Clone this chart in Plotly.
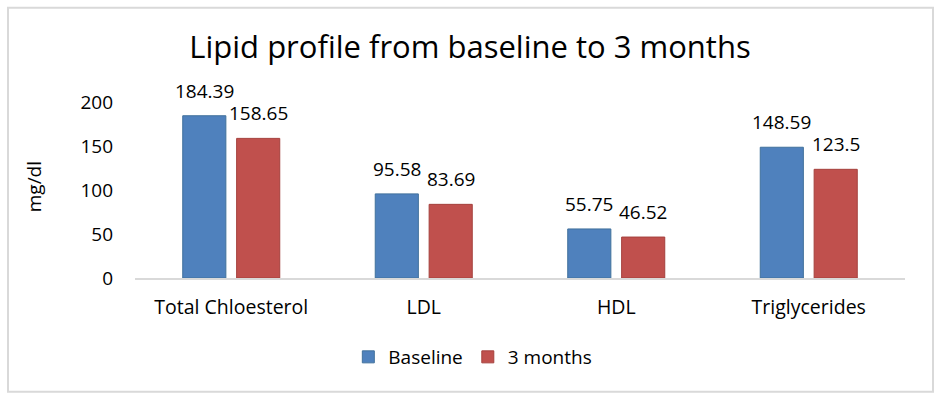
import plotly.graph_objects as go

categories = ["Total Chloesterol", "LDL", "HDL", "Triglycerides"]
baseline = [184.39, 95.58, 55.75, 148.59]
three_months = [158.65, 83.69, 46.52, 123.5]
series_names = ["Baseline", "3 months"]
y_ticks = [0, 50, 100, 150, 200]

FONT = "Open Sans"
BLUE = "#4F81BD"
RED = "#C0504D"

W, H = 940, 396
L, R, T, B = 135, 35, 101.5, 118
pw, ph = W - L - R, H - T - B

fig = go.Figure()
fig.add_trace(go.Bar(x=categories, y=baseline, name=series_names[0],
                     marker=dict(color=BLUE, line=dict(color="#41719C", width=1))))
fig.add_trace(go.Bar(x=categories, y=three_months, name=series_names[1],
                     marker=dict(color=RED, line=dict(color="#A5403D", width=1))))

annotations = []
for vals, shift in ((baseline, -27), (three_months, 27)):
    for c, v in zip(categories, vals):
        annotations.append(dict(x=c, y=v, xref="x", yref="y", text=f"{v:g}",
                                showarrow=False, xshift=shift, yshift=25,
                                yanchor="middle", xanchor="center",
                                font=dict(family=FONT, size=19, color="#000000")))

def px_x(p):
    return (p - L) / pw

def px_y(p):
    return (H - B - p) / ph

fig.update_layout(
    width=W, height=H,
    margin=dict(l=L, r=R, t=T, b=B, pad=0, autoexpand=False),
    paper_bgcolor="white", plot_bgcolor="white",
    barmode="group", bargap=0.44, bargroupgap=0.2,
    title=dict(text="Lipid profile from baseline to 3 months", x=0.5, xref="container",
               xanchor="center", y=1 - 47 / H, yanchor="middle", yref="container",
               font=dict(family=FONT, size=31, color="#000000")),
    font=dict(family=FONT, size=19, color="#000000"),
    xaxis=dict(showline=True, linecolor="#D9D9D9", linewidth=1.5, showgrid=False,
               ticks="", ticklabelstandoff=11, tickfont=dict(size=19.5)),
    yaxis=dict(range=[0, 200], tickvals=y_ticks, showgrid=False, zeroline=False,
               showline=False, ticks="", ticklabelstandoff=21, tickfont=dict(size=19)),
    legend=dict(orientation="h", x=0.503, xref="container", xanchor="center",
                y=1 - 357 / H, yref="container", yanchor="middle",
                font=dict(size=19), itemwidth=30),
    showlegend=True,
    annotations=annotations + [dict(text="mg/dl", xref="paper", yref="paper",
                                    x=px_x(34), y=px_y(187), showarrow=False,
                                    textangle=-90, xanchor="center", yanchor="middle",
                                    font=dict(family=FONT, size=19, color="#000000"))],
    shapes=[dict(type="rect", xref="paper", yref="paper",
                 x0=px_x(8), x1=px_x(933), y0=px_y(392), y1=px_y(7),
                 line=dict(color="#D9D9D9", width=2), layer="below")],
)

fig.write_html("out.html", config={"displayModeBar": False},
               post_script="document.body.style.margin='0';")
